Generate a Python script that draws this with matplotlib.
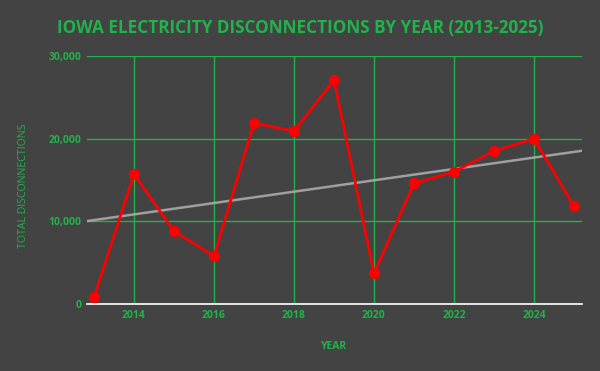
import numpy as np
import matplotlib.pyplot as plt
from matplotlib.ticker import FuncFormatter

years = [2013, 2014, 2015, 2016, 2017, 2018, 2019, 2020, 2021, 2022, 2023, 2024, 2025]
disconnections = [800, 15700, 8800, 5800, 21900, 20900, 27100, 3700, 14600, 16000, 18500, 20000, 11800]
xticks = [2014, 2016, 2018, 2020, 2022, 2024]
yticks = [0, 10000, 20000, 30000]

bg = '#434343'
green = '#21B24B'

plt.rcParams['font.family'] = ['Open Sans', 'DejaVu Sans']

fig = plt.figure(figsize=(6, 3.71), dpi=100, facecolor=bg)
ax = fig.add_axes([0.145, 0.1806, 0.825, 0.6684], facecolor=bg)

xlim = (2012.825, 2025.2)
ax.set_xlim(*xlim)
ax.set_ylim(0, 30000)

# trend line
k, b = np.polyfit(years, disconnections, 1)
tx = np.array(xlim)
ax.plot(tx, k * tx + b, color='#B0B0B0', lw=1.8, alpha=0.85, zorder=3)

ax.plot(years, disconnections, color='#FF0000', lw=2, marker='o', ms=7, zorder=4)

ax.set_xticks(xticks)
ax.set_yticks(yticks)
ax.yaxis.set_major_formatter(FuncFormatter(lambda v, p: f'{int(v):,}'))
ax.grid(True, color=green, lw=1)
ax.set_axisbelow(True)
for s in ['top', 'right', 'left']:
    ax.spines[s].set_visible(False)
ax.spines['bottom'].set_color('white')
ax.spines['bottom'].set_linewidth(1.2)
ax.spines['bottom'].set_zorder(5)
ax.tick_params(length=0, labelcolor=green, labelsize=7.5)
ax.tick_params(axis='x', pad=4)
ax.tick_params(axis='y', pad=4)
for lbl in ax.get_xticklabels() + ax.get_yticklabels():
    lbl.set_fontweight('bold')

ax.set_xlabel('YEAR', color=green, fontsize=7.5, fontweight='bold', labelpad=15)
ax.set_ylabel('TOTAL DISCONNECTIONS', color=green, fontsize=7.6, fontweight='medium')
ax.yaxis.set_label_coords(-0.118, 0.475)

fig.text(0.5, 0.925, 'IOWA ELECTRICITY DISCONNECTIONS BY YEAR (2013-2025)',
         color=green, fontsize=12.3, fontweight='bold', ha='center', va='center')

fig.savefig('out.png', dpi=100, facecolor=bg)
